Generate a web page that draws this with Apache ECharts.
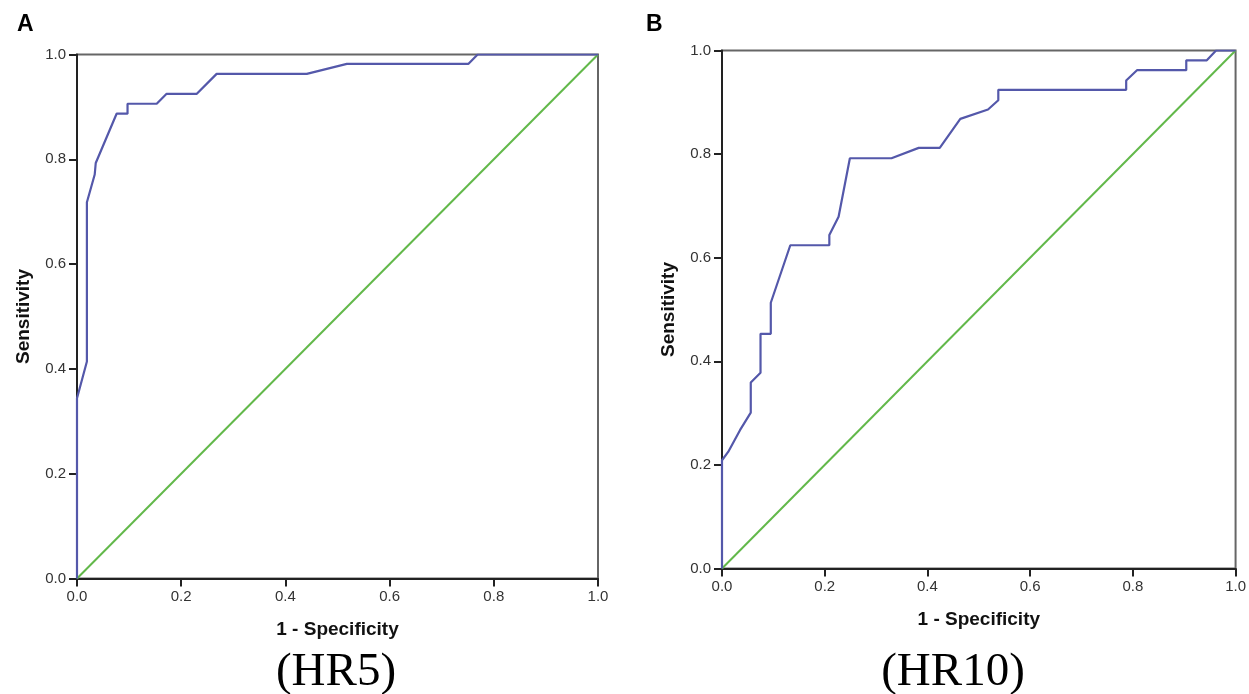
<!DOCTYPE html>
<html>
<head>
<meta charset="utf-8">
<script src="https://cdn.jsdelivr.net/npm/echarts@6/dist/echarts.min.js"></script>
<style>html,body{margin:0;padding:0;background:#fff}#c{width:1249px;height:694px}</style>
</head>
<body>
<div id="c"></div>
<script>
// Panel A (HR5) ROC curve
var fprA = [0, 0, 0.019, 0.019, 0.034, 0.036, 0.076, 0.097, 0.097, 0.153, 0.172, 0.230, 0.268, 0.441, 0.518, 0.751, 0.769, 1.0];
var tprA = [0, 0.344, 0.414, 0.718, 0.771, 0.793, 0.887, 0.887, 0.906, 0.906, 0.925, 0.925, 0.963, 0.963, 0.982, 0.982, 1.0, 1.0];
// Panel B (HR10) ROC curve
var fprB = [0, 0, 0.012, 0.035, 0.056, 0.056, 0.075, 0.075, 0.095, 0.095, 0.133, 0.209, 0.209, 0.227, 0.249, 0.330, 0.383, 0.424, 0.464, 0.518, 0.538, 0.538, 0.787, 0.787, 0.808, 0.904, 0.904, 0.944, 0.962, 1.0];
var tprB = [0, 0.209, 0.225, 0.267, 0.301, 0.359, 0.378, 0.453, 0.453, 0.513, 0.624, 0.624, 0.644, 0.679, 0.792, 0.792, 0.812, 0.812, 0.868, 0.886, 0.904, 0.924, 0.924, 0.942, 0.962, 0.962, 0.981, 0.981, 1.0, 1.0];
// Reference diagonal
var refX = [0, 1];
var refY = [0, 1];
var tickValues = [0, 0.2, 0.4, 0.6, 0.8, 1.0];
var panelLabels = ['A', 'B'];
var captions = ['(HR5)', '(HR10)'];
var xName = '1 - Specificity';
var yName = 'Sensitivity';

function zip(a, b) { return a.map(function (v, i) { return [v, b[i]]; }); }

var chart = echarts.init(document.getElementById('c'), null, {renderer: 'canvas'});
var font = 'Liberation Sans, Arial, sans-serif';
function axisCommon(idx) {
  return {
    gridIndex: idx, type: 'value', min: 0, max: 1, interval: 0.2,
    nameLocation: 'middle',
    nameTextStyle: {fontFamily: font, fontWeight: 'bold', fontSize: 19, color: '#111'},
    axisLine: {show: true, onZero: false, lineStyle: {color: '#222', width: 2}},
    axisTick: {show: true, inside: false, length: 8, lineStyle: {color: '#222', width: 2}},
    axisLabel: {margin: 11, fontFamily: font, fontSize: 15, color: '#333', formatter: function (v) { return v.toFixed(1); }},
    splitLine: {show: false}
  };
}
function xAx(idx, gap) {
  var a = axisCommon(idx); a.name = xName; a.nameGap = gap; return a;
}
function yAx(idx) {
  var a = axisCommon(idx); a.name = yName; a.nameGap = 44; return a;
}
var blue = '#5458aa', green = '#62b84a';
chart.setOption({
  animation: false,
  backgroundColor: '#fff',
  grid: [
    {left: 77, top: 54.5, width: 521, height: 524, show: true, borderColor: '#666', borderWidth: 2, backgroundColor: 'transparent'},
    {left: 722, top: 50.5, width: 517, height: 518, show: true, borderColor: '#666', borderWidth: 2, backgroundColor: 'transparent'}
  ],
  xAxis: [xAx(0, 42), xAx(1, 42)],
  yAxis: [yAx(0), yAx(1)],
  graphic: [
    {type: 'text', left: 17, top: 13, style: {text: panelLabels[0], font: 'bold 23px ' + font, fill: '#000'}},
    {type: 'text', left: 646, top: 13, style: {text: panelLabels[1], font: 'bold 23px ' + font, fill: '#000'}},
    {type: 'text', x: 336, y: 673, style: {text: captions[0], font: '47px Liberation Serif, Times New Roman, serif', fill: '#000', textAlign: 'center', textVerticalAlign: 'middle'}},
    {type: 'text', x: 953, y: 673, style: {text: captions[1], font: '47px Liberation Serif, Times New Roman, serif', fill: '#000', textAlign: 'center', textVerticalAlign: 'middle'}}
  ],
  series: [
    {type: 'line', xAxisIndex: 0, yAxisIndex: 0, data: zip(refX, refY), symbol: 'none', lineStyle: {color: green, width: 2}, z: 3},
    {type: 'line', xAxisIndex: 0, yAxisIndex: 0, data: zip(fprA, tprA), symbol: 'none', lineStyle: {color: blue, width: 2.2}, z: 4},
    {type: 'line', xAxisIndex: 1, yAxisIndex: 1, data: zip(refX, refY), symbol: 'none', lineStyle: {color: green, width: 2}, z: 3},
    {type: 'line', xAxisIndex: 1, yAxisIndex: 1, data: zip(fprB, tprB), symbol: 'none', lineStyle: {color: blue, width: 2.2}, z: 4}
  ]
});
</script>
</body>
</html>
